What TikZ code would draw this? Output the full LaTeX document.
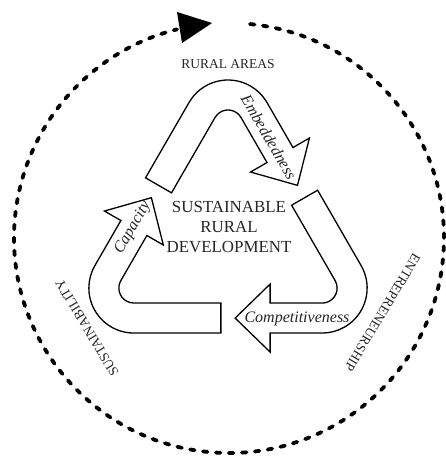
\documentclass[tikz,border=0pt]{standalone}
\usepackage{fontspec}
\setmainfont{Liberation Serif}
\newcommand\bentarrowpath{(0,108.7) ++(150:45) ++(240:87) -- ++(60:87)
  arc[start angle=150,end angle=30,radius=45] -- ++(-60:52) -- ++(30:19)
  -- ++(-11.94,-47.31) -- ++(-46.94,13.31) -- ++(30:19) -- ++(120:52)
  arc[start angle=30,end angle=150,radius=15] -- ++(240:87) -- cycle}
\begin{document}
\begin{tikzpicture}[x=1pt,y=1pt,
  band/.style={draw=black, line width=1.3pt, fill=white, line join=miter},
  lbl/.style={font=\fontsize{13.5}{16}\selectfont, text=black!85, inner sep=0pt},
  flow/.style={font=\fontsize{16}{19}\selectfont\itshape, text=black!85, inner sep=0pt},
  core/.style={font=\fontsize{16.9}{20}\selectfont, align=center, text=black!85, inner sep=0pt},
  ring/.style={line width=3.8pt, line cap=round, dash pattern=on 4.6pt off 8.4pt}]
\useasboundingbox (0,0) rectangle (446,-458);

% outer dashed ring with arrowhead
\coordinate (ctr) at (229,-238);
\draw[ring] (ctr) ++(84.4:215) arc[start angle=84.4, end angle=-256, radius=215];
\coordinate (h1) at (177,-12);
\coordinate (h2) at (182,-43);
\coordinate (h3) at (212,-23);
\fill (h1) -- (h3) -- (h2) -- cycle;

% three bent arrows
\begin{scope}[shift={(228,-233.7)}]
  \draw[band] \bentarrowpath;
  \draw[band, rotate=-120] \bentarrowpath;
  \draw[band, rotate=120] \bentarrowpath;
\end{scope}

% texts
\node[lbl] (rural) at (228,-64) {RURAL AREAS};
\node[lbl, rotate=-121] (entre) at (382.5,-312.5) {ENTREPRENEURSHIP};
\node[lbl, rotate=121] (sust) at (87,-328) {SUSTAINABILITY};
\node[core] (sus) at (229,-227.5) {SUSTAINABLE\\RURAL\\DEVELOPMENT};
\node[flow, rotate=-60] (emb) at (269,-137) {Embeddedness};
\node[flow, rotate=60] (cap) at (133,-228) {Capacity};
\node[flow] (comp) at (297,-319) {Competitiveness};
\end{tikzpicture}
\end{document}
